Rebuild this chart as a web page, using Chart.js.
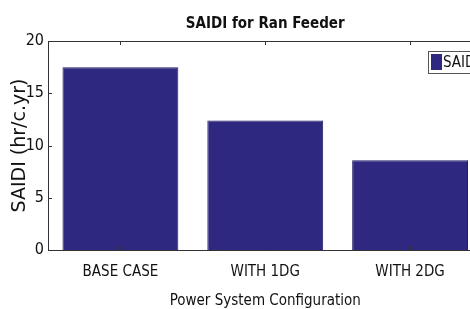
<!DOCTYPE html>
<html>
<head>
<meta charset="utf-8">
<script src="https://cdn.jsdelivr.net/npm/chart.js@4.4.0/dist/chart.umd.min.js"></script>
<style>
  html, body { margin: 0; padding: 0; background: #fff; overflow: hidden; }
  #wrap { width: 470px; height: 309px; overflow: hidden; }
</style>
</head>
<body>
<div id="wrap"><canvas id="saidiChart" width="484" height="309"></canvas></div>
<script>
// datos del grafico
const configs = ['BASE CASE', 'WITH 1DG', 'WITH 2DG'];
const saidiValues = [17.5, 12.4, 8.6];
const yTicks = [0, 5, 10, 15, 20];

const barColor = 'rgb(46,40,128)';
const narrow = "'DejaVu Sans Condensed', 'Liberation Sans Narrow', sans-serif";

// marco, marcas interiores, titulo y leyenda
const framePlugin = {
  id: 'frame',
  afterDatasetsDraw(chart) {
    const { ctx, chartArea: a, scales: { x, y } } = chart;
    ctx.save();
    ctx.strokeStyle = '#333';
    ctx.lineWidth = 1;
    ctx.strokeRect(a.left + 0.5, a.top + 0.5, a.right - a.left, a.bottom - a.top);
    ctx.beginPath();
    yTicks.forEach(v => {
      const py = Math.round(y.getPixelForValue(v)) + 0.5;
      ctx.moveTo(a.left, py); ctx.lineTo(a.left + 4, py);
      ctx.moveTo(a.right, py); ctx.lineTo(a.right - 4, py);
    });
    configs.forEach((c, i) => {
      const px = Math.round(x.getPixelForValue(i)) + 0.5;
      ctx.moveTo(px, a.top); ctx.lineTo(px, a.top + 4);
      ctx.moveTo(px, a.bottom); ctx.lineTo(px, a.bottom - 4);
    });
    ctx.stroke();

    // titulo
    ctx.fillStyle = '#111';
    ctx.font = "bold 15px " + narrow;
    ctx.textAlign = 'center';
    ctx.textBaseline = 'middle';
    ctx.fillText('SAIDI for Ran Feeder', (a.left + a.right) / 2, 24);

    // leyenda
    const lx = 428, ly = 51;
    ctx.fillStyle = '#fff';
    ctx.fillRect(lx, ly, 52, 22);
    ctx.strokeStyle = '#555';
    ctx.strokeRect(lx + 0.5, ly + 0.5, 52, 22);
    ctx.fillStyle = barColor;
    ctx.fillRect(lx + 3, ly + 3, 11, 16);
    ctx.fillStyle = '#111';
    ctx.font = "15px " + narrow;
    ctx.textAlign = 'left';
    ctx.fillText(chart.data.datasets[0].label, lx + 15, ly + 12);
    ctx.restore();
  }
};

new Chart(document.getElementById('saidiChart'), {
  type: 'bar',
  data: {
    labels: configs,
    datasets: [{
      label: 'SAIDI',
      data: saidiValues,
      backgroundColor: barColor,
      borderColor: 'rgb(35,30,100)',
      borderWidth: 1,
      barPercentage: 0.8,
      categoryPercentage: 1
    }]
  },
  options: {
    responsive: false,
    animation: false,
    devicePixelRatio: 1,
    layout: { padding: { top: 41, right: 1.5, bottom: 0, left: 0 } },
    plugins: { legend: { display: false }, title: { display: false }, tooltip: { enabled: false } },
    scales: {
      x: {
        offset: true,
        grid: { display: false, drawTicks: false },
        border: { display: false },
        ticks: { color: '#111', font: { family: narrow, size: 15 }, padding: 13 },
        title: {
          display: true, text: 'Power System Configuration', color: '#111',
          font: { family: narrow, size: 15 }, padding: { top: 0, bottom: -1 }
        },
        afterFit(s) { s.height = 59; }
      },
      y: {
        min: 0, max: 20,
        grid: { display: false, drawTicks: false },
        border: { display: false },
        ticks: { stepSize: 5, color: '#111', font: { family: narrow, size: 16 }, padding: 4 },
        title: {
          display: true, text: 'SAIDI (hr/c.yr)', color: '#111',
          font: { family: "'DejaVu Sans', sans-serif", size: 19 }, padding: { top: 9, bottom: 0 }
        },
        afterFit(s) { s.width = 48; }
      }
    }
  },
  plugins: [framePlugin]
});
</script>
</body>
</html>
